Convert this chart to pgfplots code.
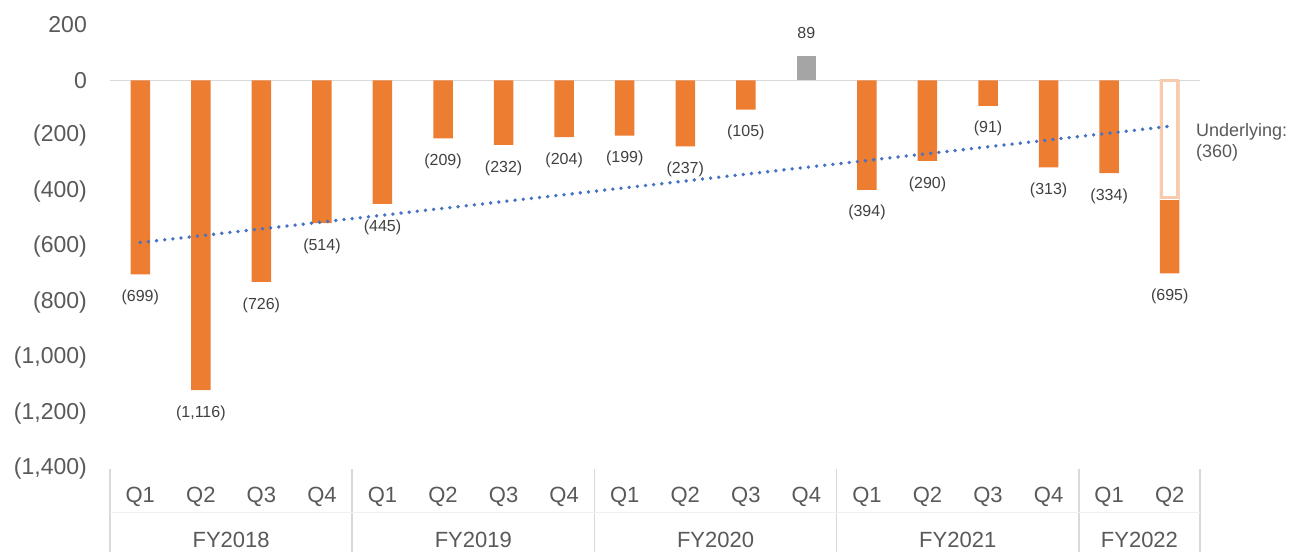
\documentclass[border=0pt]{standalone}
\usepackage{pgfplots}
\pgfplotsset{compat=1.18}
\usepackage{pgfplotstable}
\usepackage{fontspec}
\setmainfont{Liberation Sans}

\definecolor{barorange}{HTML}{ED7D31}
\definecolor{bargray}{HTML}{A5A5A5}
\definecolor{outlineorange}{HTML}{F8CBAD}
\definecolor{trendblue}{HTML}{4472C4}
\definecolor{txt}{HTML}{595959}
\definecolor{lbl}{HTML}{404040}
\definecolor{sep}{HTML}{D9D9D9}

% quarterly values, negatives shown in brackets
\pgfplotstableread{
x y lab
0 -699 (699)
1 -1116 (1,116)
2 -726 (726)
3 -514 (514)
4 -445 (445)
5 -209 (209)
6 -232 (232)
7 -204 (204)
8 -199 (199)
9 -237 (237)
10 -105 (105)
12 -394 (394)
13 -290 (290)
14 -91 (91)
15 -313 (313)
16 -334 (334)
17 -695 (695)
}\negdata

\pgfplotstableread{
x y lab
11 89 89
}\posdata

\begin{document}
\begin{tikzpicture}
\begin{axis}[
  scale only axis,
  width=1090pt, height=444pt,
  xmin=-0.5, xmax=17.5,
  ymin=-1400, ymax=200,
  ytick={-1400,-1200,...,200},
  yticklabels={{(1,400)},{(1,200)},{(1,000)},(800),(600),(400),(200),0,200},
  xtick={0,...,17},
  xticklabels={Q1,Q2,Q3,Q4,Q1,Q2,Q3,Q4,Q1,Q2,Q3,Q4,Q1,Q2,Q3,Q4,Q1,Q2},
  major tick length=0pt,
  axis line style={draw=none},
  yticklabel style={font=\fontsize{23}{27}\selectfont, text=txt, anchor=east, inner sep=0pt, xshift=-23pt},
  xticklabel style={font=\fontsize{22}{26}\selectfont, text=txt, anchor=center, inner sep=0pt, yshift=-28pt},
  clip=false,
  ybar, bar width=19.5pt, bar shift=0pt,
  point meta=explicit symbolic,
]
\draw[sep, line width=1.5pt] (axis cs:-0.5,0) -- (axis cs:17.5,0);

\addplot[fill=barorange, draw=none,
  nodes near coords,
  every node near coord/.append style={font=\fontsize{16}{19}\selectfont, text=lbl, anchor=center, yshift=-23pt}]
  table[x=x, y=y, meta=lab] {\negdata};

\addplot[fill=bargray, draw=none,
  nodes near coords,
  every node near coord/.append style={font=\fontsize{16}{19}\selectfont, text=lbl, anchor=center, yshift=23pt}]
  table[x=x, y=y, meta=lab] {\posdata};

% underlying part of the last quarter
\addplot[fill=white, draw=none, bar width=19.5pt] coordinates {(17,-432)};
\addplot[fill=white, draw=outlineorange, line width=3pt, bar width=16.5pt] coordinates {(17,-421)};

% trend line
\addplot[sharp plot, trendblue, line width=3.8pt, line cap=round, dash pattern=on 0pt off 8.2pt]
  coordinates {(0,-584) (17,-165)};

\node[anchor=north west, align=left, inner sep=0pt, font=\fontsize{18}{21}\selectfont, text=txt]
  at ([xshift=-4pt, yshift=-43pt]axis cs:17.5,0) {Underlying:\\(360)};

% category group separators
\pgfplotsinvokeforeach{-0.5,3.5,7.5,11.5,15.5,17.5}{
  \draw[sep, line width=1.5pt] (axis cs:#1,-1400) -- ([yshift=-83pt]axis cs:#1,-1400);
}
\draw[sep!40, line width=1pt] ([yshift=-43pt]axis cs:-0.5,-1400) -- ([yshift=-43pt]axis cs:17.5,-1400);

\node[font=\fontsize{22}{26}\selectfont, text=txt, inner sep=0pt] at ([yshift=-71pt]axis cs:1.5,-1400) {FY2018};
\node[font=\fontsize{22}{26}\selectfont, text=txt, inner sep=0pt] at ([yshift=-71pt]axis cs:5.5,-1400) {FY2019};
\node[font=\fontsize{22}{26}\selectfont, text=txt, inner sep=0pt] at ([yshift=-71pt]axis cs:9.5,-1400) {FY2020};
\node[font=\fontsize{22}{26}\selectfont, text=txt, inner sep=0pt] at ([yshift=-71pt]axis cs:13.5,-1400) {FY2021};
\node[font=\fontsize{22}{26}\selectfont, text=txt, inner sep=0pt] at ([yshift=-71pt]axis cs:16.5,-1400) {FY2022};

\coordinate (bl) at (axis cs:-0.5,-1400);
\end{axis}
\pgfresetboundingbox
\path ([shift={(-110pt,-83pt)}]bl) rectangle ([shift={(1195pt,469pt)}]bl);
\end{tikzpicture}
\end{document}
